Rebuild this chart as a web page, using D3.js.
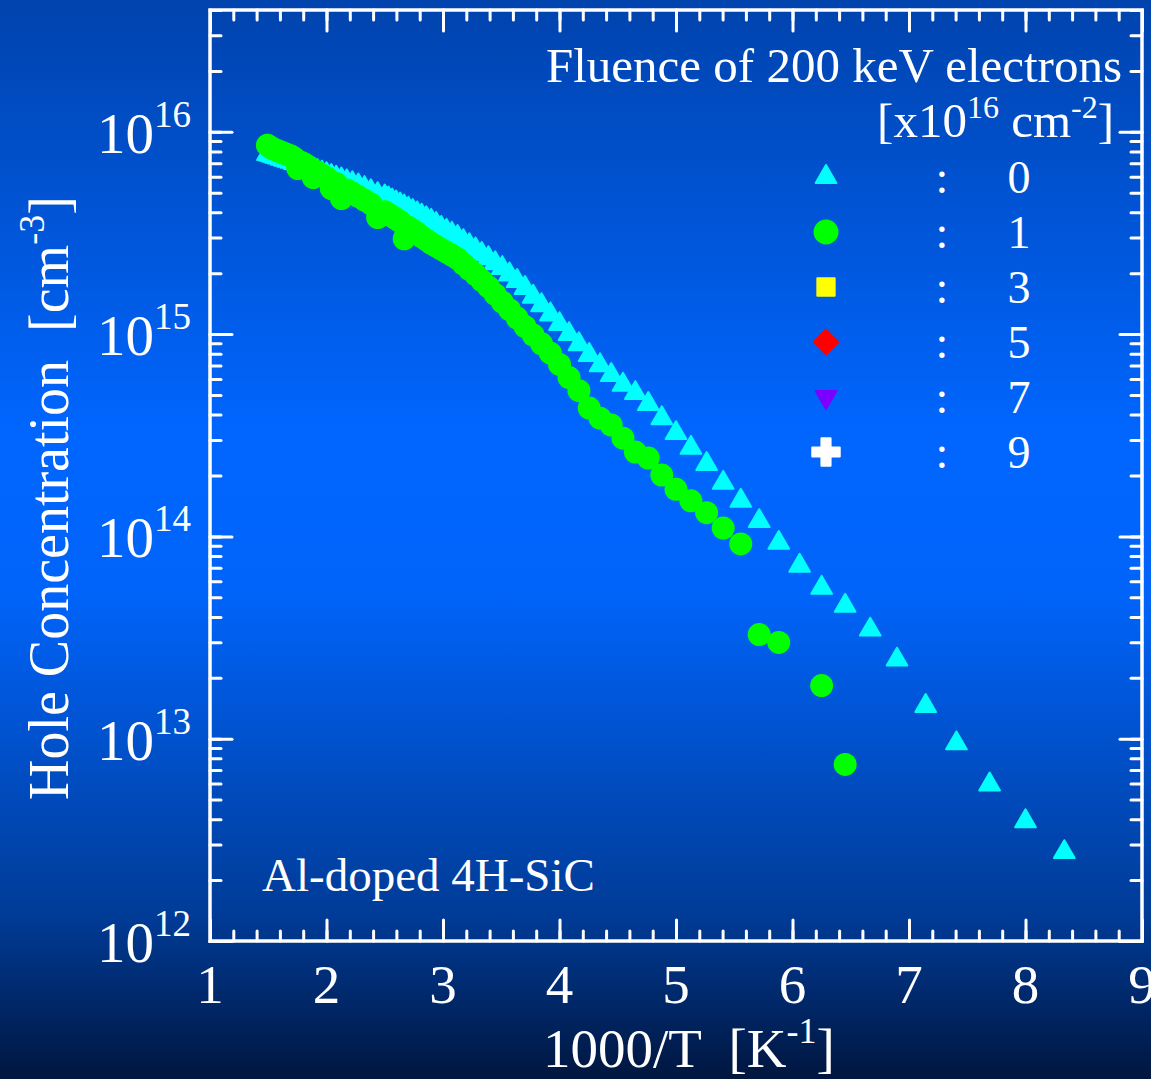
<!DOCTYPE html>
<html>
<head>
<meta charset="utf-8">
<script src="https://cdn.jsdelivr.net/npm/d3@7"></script>
<style>
  body { margin: 0; background: #001a4d; }
  svg text { font-family: "Liberation Serif", "Times New Roman", serif; fill: #fff; }
</style>
</head>
<body>
<script>
// Width and height
var w = 1151;
var h = 1079;

// 1000/T [1/K] and hole concentration [cm-3], fluence 0 (cyan triangles)
var cyanX = [1.493, 1.515, 1.538, 1.563, 1.587, 1.613, 1.639, 1.667, 1.695, 1.724,
  1.754, 1.786, 1.818, 1.852, 1.887, 1.923, 1.961, 2.000, 2.041, 2.083,
  2.128, 2.174, 2.222, 2.273, 2.326, 2.381, 2.439, 2.500,
  2.532, 2.564, 2.597, 2.632, 2.667, 2.703, 2.740, 2.778, 2.817, 2.857,
  2.899, 2.941, 2.985, 3.030, 3.077, 3.125, 3.175, 3.226, 3.279, 3.333,
  3.390, 3.448, 3.509, 3.571, 3.636, 3.704, 3.774, 3.846, 3.922, 4.000,
  4.082, 4.167, 4.255, 4.348, 4.444, 4.545, 4.651, 4.762, 4.878, 5.000,
  5.128, 5.263, 5.405, 5.556, 5.714, 5.882, 6.061, 6.250, 6.452, 6.667,
  6.897, 7.143, 7.407, 7.692, 8.000, 8.333];
var cyanY = [7.76e15, 7.69e15, 7.62e15, 7.53e15, 7.46e15, 7.36e15, 7.28e15, 7.19e15, 7.10e15, 7.00e15,
  6.90e15, 6.81e15, 6.70e15, 6.61e15, 6.50e15, 6.38e15, 6.28e15, 6.17e15, 6.05e15, 5.93e15,
  5.81e15, 5.69e15, 5.57e15, 5.43e15, 5.27e15, 5.08e15, 4.92e15, 4.79e15,
  4.68e15, 4.57e15, 4.47e15, 4.37e15, 4.27e15, 4.16e15, 4.06e15, 3.95e15, 3.85e15, 3.74e15,
  3.63e15, 3.50e15, 3.35e15, 3.24e15, 3.13e15, 3.02e15, 2.88e15, 2.75e15, 2.62e15, 2.49e15,
  2.37e15, 2.24e15, 2.12e15, 1.97e15, 1.83e15, 1.69e15, 1.53e15, 1.39e15, 1.25e15, 1.12e15,
  1.00e15, 8.91e14, 7.89e14, 7.01e14, 6.28e14, 5.62e14, 5.11e14, 4.51e14, 3.84e14, 3.24e14,
  2.74e14, 2.28e14, 1.84e14, 1.50e14, 1.19e14, 9.29e13, 7.16e13, 5.57e13, 4.54e13, 3.46e13,
  2.46e13, 1.45e13, 9.48e12, 5.94e12, 3.91e12, 2.75e12];

// fluence 1 (green circles)
var greenX = [1.493, 1.515, 1.538, 1.563, 1.587, 1.613, 1.639, 1.667, 1.695, 1.724,
  1.754, 1.786, 1.818, 1.852, 1.887, 1.923, 1.961, 2.000, 2.041, 2.083,
  2.128, 2.174, 2.222, 2.273, 2.326, 2.381, 2.439, 2.500,
  2.532, 2.564, 2.597, 2.632, 2.667, 2.703, 2.740, 2.778, 2.817, 2.857,
  2.899, 2.941, 2.985, 3.030, 3.077, 3.125, 3.175, 3.226, 3.279, 3.333,
  3.390, 3.448, 3.509, 3.571, 3.636, 3.704, 3.774, 3.846, 3.922, 4.000,
  4.082, 4.167, 4.255, 4.348, 4.444, 4.545, 4.651, 4.762, 4.878, 5.000,
  5.128, 5.263, 5.405, 5.556, 5.714, 5.882, 6.250, 6.452];
var greenY = [8.59e15, 8.41e15, 8.26e15, 8.13e15, 8.04e15, 7.93e15, 7.82e15, 7.71e15, 7.59e15, 7.41e15,
  6.58e15, 7.06e15, 6.89e15, 6.70e15, 5.93e15, 6.32e15, 6.12e15, 5.93e15, 5.24e15, 5.55e15,
  4.68e15, 5.16e15, 4.98e15, 4.79e15, 4.59e15, 4.40e15, 3.77e15, 4.02e15,
  3.92e15, 3.82e15, 3.71e15, 3.60e15, 2.96e15, 3.37e15, 3.27e15, 3.16e15, 3.02e15, 2.92e15,
  2.81e15, 2.72e15, 2.63e15, 2.54e15, 2.45e15, 2.36e15, 2.22e15, 2.09e15, 1.97e15, 1.84e15,
  1.71e15, 1.57e15, 1.44e15, 1.32e15, 1.20e15, 1.09e15, 9.89e14, 8.95e14, 8.05e14, 7.08e14,
  6.10e14, 5.25e14, 4.31e14, 3.84e14, 3.55e14, 3.06e14, 2.61e14, 2.44e14, 2.01e14, 1.71e14,
  1.50e14, 1.31e14, 1.10e14, 9.18e13, 3.27e13, 2.99e13, 1.83e13, 7.46e12];

// axis ticks and legend entries
var xTicks = [1, 2, 3, 4, 5, 6, 7, 8, 9];
var yExponents = [12, 13, 14, 15, 16];
var legendFluence = ["0", "1", "3", "5", "7", "9"];
var legendColors = ["#00ffff", "#00ff00", "#ffff00", "#ff0000", "#7a00ff", "#ffffff"];
var legendShapes = ["triangle", "circle", "square", "diamond", "down", "cross"];

// plot box
var boxL = 210, boxR = 1142, boxT = 10, boxB = 941;

var x = d3.scaleLinear().domain([1, 9]).range([boxL, boxR]);
var y = d3.scaleLog().domain([1e12, 4e16]).range([boxB, boxT]);

var svg = d3.select("body")
    .append("svg")
    .attr("width", w)
    .attr("height", h);

// background gradient
var grad = svg.append("defs").append("linearGradient")
    .attr("id", "bg")
    .attr("x1", 0).attr("y1", 0).attr("x2", 0).attr("y2", 1);
grad.append("stop").attr("offset", "0%").attr("stop-color", "#0043ad");
grad.append("stop").attr("offset", "40%").attr("stop-color", "#0066ff");
grad.append("stop").attr("offset", "55%").attr("stop-color", "#0064fa");
grad.append("stop").attr("offset", "85%").attr("stop-color", "#003b96");
grad.append("stop").attr("offset", "100%").attr("stop-color", "#00163f");

svg.append("rect")
    .attr("width", w)
    .attr("height", h)
    .attr("fill", "url(#bg)");

// axes (ticks point inward on all four sides)
function styleAxis(g) {
    g.select(".domain").remove();
    g.selectAll("line")
        .attr("stroke", "#fff")
        .attr("stroke-width", 3)
        .attr("stroke-linecap", "round");
    g.selectAll("text").remove();
}

var xMinor = d3.range(1, 9.001, 0.2);
var yMinor = y.ticks();
var yMajor = yExponents.map(function (e) { return Math.pow(10, e); });

svg.append("g").attr("transform", "translate(0," + boxB + ")")
    .call(d3.axisBottom(x).tickValues(xMinor).tickSize(-10)).call(styleAxis);
svg.append("g").attr("transform", "translate(0," + boxB + ")")
    .call(d3.axisBottom(x).tickValues(xTicks).tickSize(-21)).call(styleAxis);
svg.append("g").attr("transform", "translate(0," + boxT + ")")
    .call(d3.axisTop(x).tickValues(xMinor).tickSize(-10)).call(styleAxis);
svg.append("g").attr("transform", "translate(0," + boxT + ")")
    .call(d3.axisTop(x).tickValues(xTicks).tickSize(-21)).call(styleAxis);

svg.append("g").attr("transform", "translate(" + boxL + ",0)")
    .call(d3.axisLeft(y).tickValues(yMinor).tickSize(-11)).call(styleAxis);
svg.append("g").attr("transform", "translate(" + boxL + ",0)")
    .call(d3.axisLeft(y).tickValues(yMajor).tickSize(-22)).call(styleAxis);
svg.append("g").attr("transform", "translate(" + boxR + ",0)")
    .call(d3.axisRight(y).tickValues(yMinor).tickSize(-11)).call(styleAxis);
svg.append("g").attr("transform", "translate(" + boxR + ",0)")
    .call(d3.axisRight(y).tickValues(yMajor).tickSize(-22)).call(styleAxis);

// frame
svg.append("rect")
    .attr("x", boxL).attr("y", boxT)
    .attr("width", boxR - boxL).attr("height", boxB - boxT)
    .attr("fill", "none")
    .attr("stroke", "#fff")
    .attr("stroke-width", 3.5);

// tick labels
svg.append("g").selectAll("text")
    .data(xTicks)
    .enter()
    .append("text")
    .attr("x", function (d) { return x(d); })
    .attr("y", 1003)
    .attr("text-anchor", "middle")
    .style("font-size", "55px")
    .text(function (d) { return d; });

var yLab = svg.append("g").selectAll("text")
    .data(yExponents)
    .enter()
    .append("text")
    .attr("x", 97)
    .attr("y", function (d) { return y(Math.pow(10, d)) + 21; })
    .style("font-size", "57px");
yLab.append("tspan").text("10");
yLab.append("tspan")
    .attr("dy", -26)
    .style("font-size", "37px")
    .text(function (d) { return d; });

// axis titles
var xTitle = svg.append("text")
    .attr("x", 543)
    .attr("y", 1067)
    .style("font-size", "55px")
    .style("white-space", "pre");
xTitle.append("tspan").text("1000/T  [K");
xTitle.append("tspan").attr("dy", -24).style("font-size", "36px").text("-1");
xTitle.append("tspan").attr("dy", 24).text("]");

var yTitle = svg.append("text")
    .attr("transform", "translate(68,800) rotate(-90)")
    .style("font-size", "56px")
    .style("white-space", "pre");
yTitle.append("tspan").text("Hole Concentration  [cm");
yTitle.append("tspan").attr("dy", -24).style("font-size", "36px").text("-3");
yTitle.append("tspan").attr("dy", 24).text("]");

// sample label
svg.append("text")
    .attr("x", 262)
    .attr("y", 891)
    .style("font-size", "47px")
    .text("Al-doped 4H-SiC");

// data: fluence 0
svg.append("g")
    .selectAll("path")
    .data(cyanX)
    .enter()
    .append("path")
    .attr("transform", function (d, i) {
        return "translate(" + x(d) + "," + y(cyanY[i]) + ")";
    })
    .attr("d", d3.symbol(d3.symbolTriangle, 185))
    .style("fill", "#00ffff")
    .style("stroke", "#00ffff")
    .style("stroke-width", 2)
    .style("stroke-linejoin", "round");

// data: fluence 1
svg.append("g")
    .selectAll("circle")
    .data(greenX)
    .enter()
    .append("circle")
    .attr("cx", function (d) { return x(d); })
    .attr("cy", function (d, i) { return y(greenY[i]); })
    .attr("r", 11.5)
    .style("fill", "#00ff00");

// legend
svg.append("text")
    .attr("x", 1122)
    .attr("y", 82)
    .attr("text-anchor", "end")
    .style("font-size", "49px")
    .text("Fluence of 200 keV electrons");

var unit = svg.append("text")
    .attr("x", 1114)
    .attr("y", 137)
    .attr("text-anchor", "end")
    .style("font-size", "49px");
unit.append("tspan").text("[x10");
unit.append("tspan").attr("dy", -19).style("font-size", "32px").text("16");
unit.append("tspan").attr("dy", 19).text(" cm");
unit.append("tspan").attr("dy", -19).style("font-size", "32px").text("-2");
unit.append("tspan").attr("dy", 19).text("]");

var shapeOf = {
    triangle: { type: d3.symbolTriangle, size: 185, rot: 0 },
    circle: { type: d3.symbolCircle, size: 415, rot: 0 },
    square: { type: d3.symbolSquare, size: 300, rot: 0 },
    diamond: { type: d3.symbolSquare, size: 300, rot: 45 },
    down: { type: d3.symbolTriangle, size: 185, rot: 180 },
    cross: { type: d3.symbolCross, size: 420, rot: 0 }
};

var rows = svg.append("g")
    .selectAll("g")
    .data(legendFluence)
    .enter()
    .append("g")
    .attr("transform", function (d, i) { return "translate(0," + (177 + i * 55) + ")"; });

rows.append("path")
    .attr("transform", function (d, i) {
        return "translate(826,0) rotate(" + shapeOf[legendShapes[i]].rot + ")";
    })
    .attr("d", function (d, i) {
        var s = shapeOf[legendShapes[i]];
        return d3.symbol(s.type, s.size)();
    })
    .style("fill", function (d, i) { return legendColors[i]; })
    .style("stroke", function (d, i) { return legendColors[i]; })
    .style("stroke-width", 2)
    .style("stroke-linejoin", "round");

rows.append("text")
    .attr("x", 942)
    .attr("y", 16)
    .attr("text-anchor", "middle")
    .style("font-size", "46px")
    .text(":");

rows.append("text")
    .attr("x", 1019)
    .attr("y", 16)
    .attr("text-anchor", "middle")
    .style("font-size", "46px")
    .text(function (d) { return d; });
</script>
</body>
</html>
